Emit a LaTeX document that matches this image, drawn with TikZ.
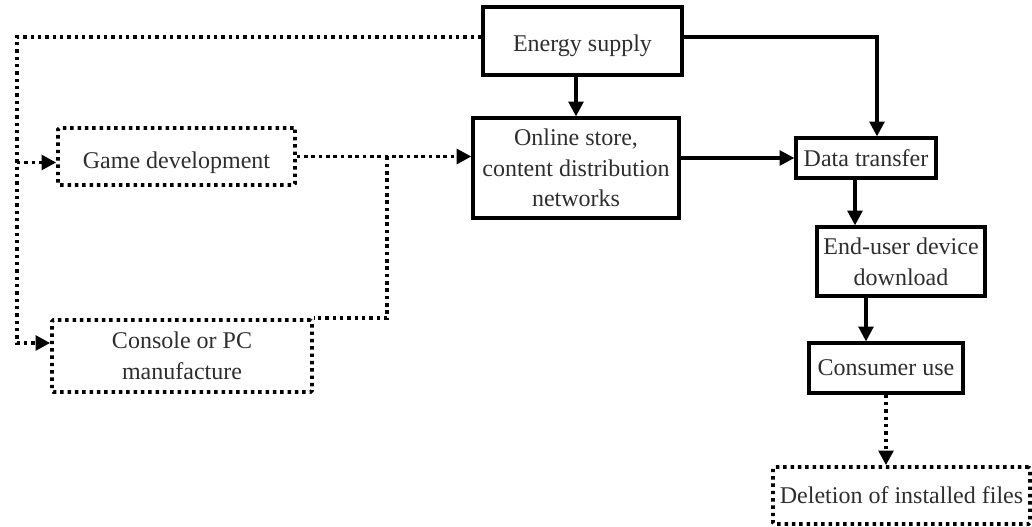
\documentclass[tikz,border=0pt]{standalone}
\usepackage{fontspec}
\setmainfont{Liberation Serif}
\usetikzlibrary{arrows.meta,calc}
\definecolor{txt}{HTML}{2E2E2E}
\begin{document}
\begin{tikzpicture}[x=0.75pt,y=-0.75pt,
  box/.style={draw=black,line width=2.4pt,rectangle,inner sep=0pt,align=center,
    text=txt,font=\fontsize{18}{23}\selectfont},
  dbox/.style={box,line width=2.7pt,dash pattern=on 2.6pt off 2.9pt,rounded corners=1pt},
  sol/.style={line width=2.4pt,-{Triangle[length=11pt,width=11pt]}},
  dot/.style={line width=2.7pt,dash pattern=on 2.6pt off 2.9pt},
  dotarr/.style={dot,-{Triangle[length=11pt,width=11pt]}}]
\useasboundingbox (0,0) rectangle (1032,527);

\node[box,minimum width=199*0.75pt,minimum height=68*0.75pt,text height=20pt] (es) at (582.5,41) {Energy supply};
\node[box,minimum width=206*0.75pt,minimum height=100*0.75pt] (os) at (576,168) {Online store,\\content distribution\\networks};
\node[dbox,minimum width=237*0.75pt,minimum height=57*0.75pt,text height=21.4pt] (gd) at (176.5,156.5) {Game development};
\node[dbox,minimum width=260*0.75pt,minimum height=72*0.75pt] (cm) at (182,356) {Console or PC\\manufacture};
\node[box,minimum width=140*0.75pt,minimum height=40*0.75pt] (dt) at (866,158) {Data transfer};
\node[box,minimum width=168*0.75pt,minimum height=69*0.75pt] (eu) at (901,261.5) {End-user device\\download};
\node[box,minimum width=154*0.75pt,minimum height=50*0.75pt] (cu) at (886,368) {Consumer use};
\node[dbox,minimum width=257*0.75pt,minimum height=57*0.75pt] (del) at (901.5,495.5) {Deletion of installed files};

% solid connectors
\draw[sol] (es.south -| os.north) -- (os.north);
\draw[sol] ([yshift=3pt]es.east) -| ([xshift=8.25pt]dt.north);
\draw[sol] (os.east |- dt.west) -- (dt.west);
\coordinate (dtout) at ([xshift=-8.25pt]dt.south);
\draw[sol] (dtout) -- (dtout |- eu.north);
\coordinate (euout) at ([xshift=-26.25pt]eu.south);
\draw[sol] (euout) -- (euout |- cu.north);

% dotted connectors
\draw[dotarr] (cu.south) -- (cu.south |- del.north);
\coordinate (L) at (17,37);
\coordinate (cmin) at ([yshift=9.75pt]cm.west);
\coordinate (gdin) at ([yshift=-4.5pt]gd.west);
\draw[dotarr] ([yshift=3pt]es.west) -- (L) |- (cmin);
\draw[dotarr] (L |- gdin) -- (gdin);
\draw[dotarr] (gd.east) -- (os.west |- gd.east);
\coordinate (J) at (387,156.5);
\draw[dot] (J) |- (cm.north east);
\end{tikzpicture}
\end{document}
